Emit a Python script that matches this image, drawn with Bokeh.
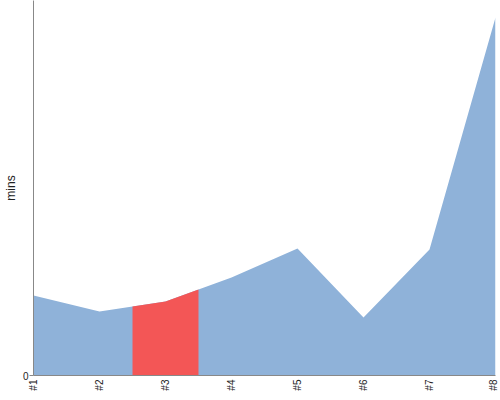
import numpy as np
from bokeh.plotting import figure
from bokeh.models import Range1d, FixedTicker
from bokeh.embed import file_html
from bokeh.resources import INLINE

categories = ["#1", "#2", "#3", "#4", "#5", "#6", "#7", "#8"]
mins = [80, 64, 74, 98, 127, 58, 126, 358]
highlight = "#3"

x = np.arange(1, len(categories) + 1)
hi = categories.index(highlight) + 1

p = figure(width=498, height=393, output_backend="svg", toolbar_location=None,
           x_range=Range1d(1, len(categories)), y_range=Range1d(0, 375),
           min_border_left=25, min_border_right=3, min_border_top=0, min_border_bottom=10)
p.outline_line_color = None
p.grid.visible = False
p.background_fill_color = "white"

p.varea(x=x, y1=0, y2=mins, fill_color="#8fb2d9")
hx = np.array([hi - 0.5, hi, hi + 0.5])
hy = np.interp(hx, x, mins)
p.varea(x=hx, y1=0, y2=hy, fill_color="#f35656")

p.xaxis.ticker = FixedTicker(ticks=list(x))
p.xaxis.major_label_overrides = {int(i): c for i, c in zip(x, categories)}
p.xaxis.major_label_orientation = np.pi / 2
p.xaxis.major_tick_out = 0
p.xaxis.major_tick_in = 0
p.xaxis.minor_tick_line_color = None
p.xaxis.major_label_standoff = 4
p.xaxis.major_label_text_font = "Liberation Sans"
p.xaxis.major_label_text_font_size = "10px"
p.xaxis.major_label_text_color = "#222222"
p.xaxis.axis_line_color = "#888888"

p.yaxis.ticker = FixedTicker(ticks=[0])
p.yaxis.major_tick_out = 4
p.yaxis.major_tick_in = 0
p.yaxis.minor_tick_line_color = None
p.yaxis.major_tick_line_color = "#888888"
p.yaxis.major_label_standoff = 1
p.yaxis.major_label_text_font = "Liberation Sans"
p.yaxis.major_label_text_font_size = "10px"
p.yaxis.major_label_text_color = "#222222"
p.yaxis.axis_line_color = "#888888"
p.yaxis.axis_label = "mins"
p.yaxis.axis_label_standoff = 2
p.yaxis.axis_label_text_font = "Liberation Sans"
p.yaxis.axis_label_text_font_size = "12px"
p.yaxis.axis_label_text_font_style = "normal"
p.yaxis.axis_label_text_color = "#222222"

open("out.html", "w").write(file_html(p, INLINE))
